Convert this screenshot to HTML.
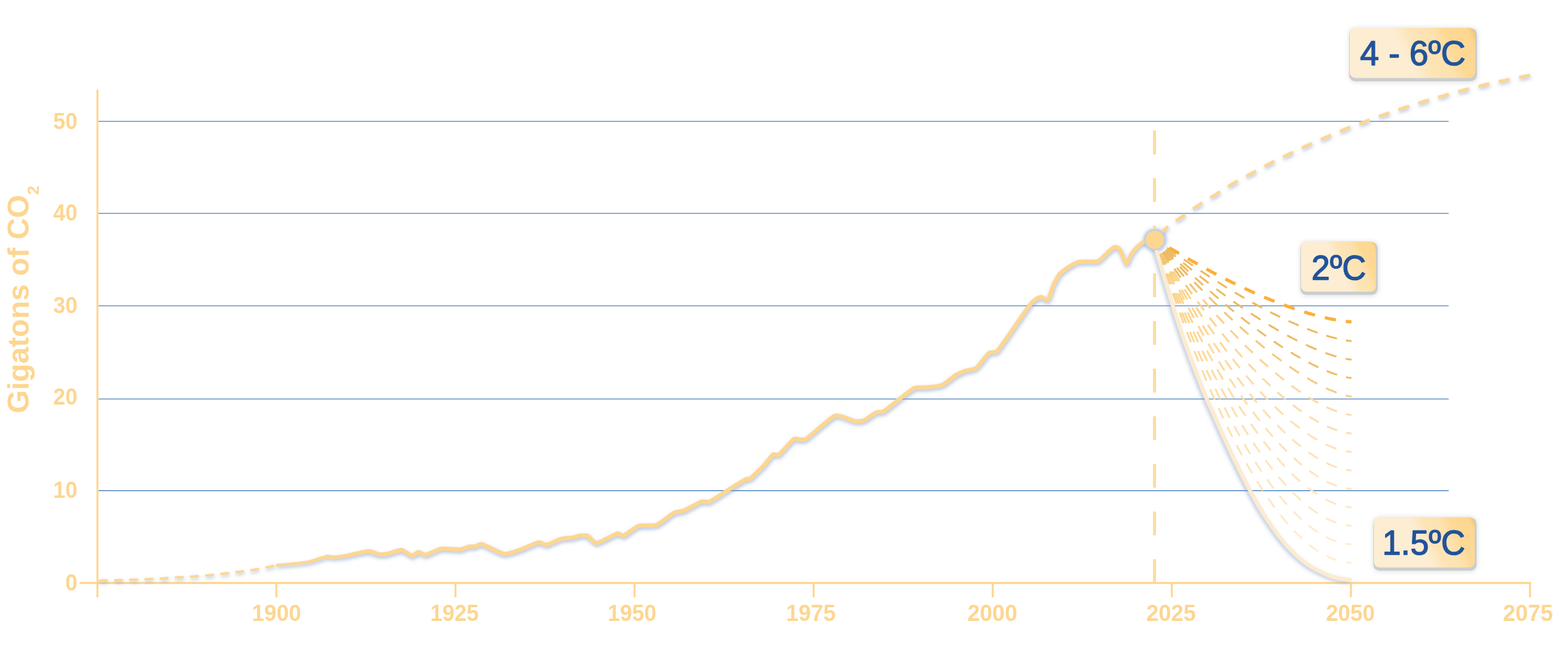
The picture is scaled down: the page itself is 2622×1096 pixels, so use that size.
<!DOCTYPE html>
<html lang="en"><head><meta charset="utf-8"><title>Gigatons of CO2 – emission pathways</title>
<style>html,body{margin:0;padding:0;background:#fff}body{width:2622px;height:1096px;overflow:hidden}svg{display:block}text{font-family:"Liberation Sans",Arial,Helvetica,sans-serif}</style>
</head><body>
<svg width="2622" height="1096" viewBox="0 0 2622 1096">
<defs>
<filter id="sh" x="0" y="0" width="2622" height="1096" filterUnits="userSpaceOnUse"><feGaussianBlur in="SourceAlpha" stdDeviation="3.2" result="b"/><feOffset in="b" dx="0.8" dy="2.6" result="o"/><feFlood flood-color="#7F98BE" flood-opacity="0.62"/><feComposite in2="o" operator="in" result="s"/><feMerge><feMergeNode in="s"/><feMergeNode in="SourceGraphic"/></feMerge></filter>
<filter id="sh2" x="0" y="0" width="2622" height="1096" filterUnits="userSpaceOnUse"><feGaussianBlur in="SourceAlpha" stdDeviation="3.1" result="b"/><feOffset in="b" dx="-3.2" dy="2.0" result="o"/><feFlood flood-color="#7F98BE" flood-opacity="0.55"/><feComposite in2="o" operator="in" result="s"/><feMerge><feMergeNode in="s"/><feMergeNode in="SourceGraphic"/></feMerge></filter>
<filter id="glow" x="-60%" y="-60%" width="220%" height="220%"><feGaussianBlur stdDeviation="3.2"/></filter>
<filter id="soft" x="-20%" y="-30%" width="140%" height="160%"><feGaussianBlur stdDeviation="3"/></filter>
</defs>
<rect width="2622" height="1096" fill="#FFFFFF"/>
<g stroke="#739ECC" stroke-width="1.8" fill="none">
<line x1="164.5" y1="203.2" x2="2422.5" y2="203.2"/>
<line x1="164.5" y1="357.2" x2="2422.5" y2="357.2"/>
<line x1="164.5" y1="511.6" x2="2422.5" y2="511.6"/>
<line x1="164.5" y1="667.6" x2="2422.5" y2="667.6"/>
<line x1="164.5" y1="821.0" x2="2422.5" y2="821.0"/>
</g>
<g stroke="#FDD691" stroke-width="3.3" fill="none">
<line x1="163" y1="150" x2="163" y2="999.7"/>
<line x1="133" y1="975.5" x2="2560.1" y2="975.5"/>
<line x1="462.2" y1="975.5" x2="462.2" y2="999.5"/>
<line x1="761.7" y1="975.5" x2="761.7" y2="999.5"/>
<line x1="1061.1" y1="975.5" x2="1061.1" y2="999.5"/>
<line x1="1360.6" y1="975.5" x2="1360.6" y2="999.5"/>
<line x1="1660.1" y1="975.5" x2="1660.1" y2="999.5"/>
<line x1="1959.5" y1="975.5" x2="1959.5" y2="999.5"/>
<line x1="2259.0" y1="975.5" x2="2259.0" y2="999.5"/>
<line x1="2558.5" y1="975.5" x2="2558.5" y2="999.5"/>
</g>
<circle cx="1931.3" cy="401.8" r="19.6" fill="#9FB1CC" opacity="0.75" filter="url(#glow)"/>
<line x1="1930.6" y1="975.5" x2="1930.6" y2="215" stroke="#FBDCA1" stroke-width="5" stroke-dasharray="39.85 39.85" fill="none"/>
<g fill="#FDD691" font-weight="700" font-size="38.7" text-anchor="end">
<text transform="translate(129.5 216.1) scale(0.94 1)">50</text>
<text transform="translate(129.5 368.7) scale(0.94 1)">40</text>
<text transform="translate(129.5 523.5) scale(0.94 1)">30</text>
<text transform="translate(129.5 677.2) scale(0.94 1)">20</text>
<text transform="translate(129.5 832.7) scale(0.94 1)">10</text>
<text transform="translate(129.5 987.8) scale(0.94 1)">0</text>
</g>
<g fill="#FDD691" font-weight="700" font-size="39.2" text-anchor="middle">
<text transform="translate(462.4 1038.9) scale(0.944 1)">1900</text>
<text transform="translate(760.0 1038.9) scale(0.93 1)">1925</text>
<text transform="translate(1056.9 1038.9) scale(0.93 1)">1950</text>
<text transform="translate(1356.0 1038.9) scale(0.951 1)">1975</text>
<text transform="translate(1659.3 1038.9) scale(0.956 1)">2000</text>
<text transform="translate(1958.3 1038.9) scale(0.953 1)">2025</text>
<text transform="translate(2258.0 1038.9) scale(0.937 1)">2050</text>
<text transform="translate(2555.0 1038.9) scale(0.958 1)">2075</text>
</g>
<text transform="translate(48.4 691.5) rotate(-90) scale(0.983 1)" fill="#FDD691" font-weight="700" font-size="50.7">Gigatons of CO<tspan font-size="28" dy="16.4">2</tspan></text>
<linearGradient id="g1" gradientUnits="userSpaceOnUse" x1="0" y1="400" x2="0" y2="1000"><stop offset="0.000" stop-color="#ECBA61"/><stop offset="1.000" stop-color="#ECBA61"/></linearGradient>
<linearGradient id="g2" gradientUnits="userSpaceOnUse" x1="0" y1="400" x2="0" y2="1000"><stop offset="0.000" stop-color="#ECBB63"/><stop offset="1.000" stop-color="#ECBB63"/></linearGradient>
<linearGradient id="g3" gradientUnits="userSpaceOnUse" x1="0" y1="400" x2="0" y2="1000"><stop offset="0.000" stop-color="#EDBD67"/><stop offset="1.000" stop-color="#EDBD67"/></linearGradient>
<linearGradient id="g4" gradientUnits="userSpaceOnUse" x1="0" y1="400" x2="0" y2="1000"><stop offset="0.000" stop-color="#ECBB63"/><stop offset="0.067" stop-color="#ECBB63"/><stop offset="0.088" stop-color="#ECBB63"/><stop offset="0.110" stop-color="#ECBB63"/><stop offset="0.113" stop-color="#ECBB63"/><stop offset="0.130" stop-color="#ECBB63"/><stop offset="0.147" stop-color="#EEBF69"/><stop offset="0.163" stop-color="#F1C270"/><stop offset="0.180" stop-color="#F3C676"/><stop offset="0.200" stop-color="#F3C676"/><stop offset="0.283" stop-color="#F4C97C"/><stop offset="0.367" stop-color="#F4CB82"/><stop offset="0.450" stop-color="#F5CD88"/><stop offset="0.533" stop-color="#F5D08D"/><stop offset="0.617" stop-color="#F6D292"/><stop offset="0.700" stop-color="#F6D497"/><stop offset="0.783" stop-color="#F7D69C"/><stop offset="0.867" stop-color="#F7D8A2"/><stop offset="0.950" stop-color="#F8DAA7"/></linearGradient>
<linearGradient id="g5" gradientUnits="userSpaceOnUse" x1="0" y1="400" x2="0" y2="1000"><stop offset="0.000" stop-color="#ECBB63"/><stop offset="0.067" stop-color="#ECBB63"/><stop offset="0.088" stop-color="#ECBB63"/><stop offset="0.110" stop-color="#ECBB63"/><stop offset="0.113" stop-color="#ECBB63"/><stop offset="0.130" stop-color="#F0C16E"/><stop offset="0.147" stop-color="#F5C879"/><stop offset="0.163" stop-color="#F9CE84"/><stop offset="0.180" stop-color="#F9CE84"/><stop offset="0.200" stop-color="#F9CE84"/><stop offset="0.283" stop-color="#FAD28F"/><stop offset="0.367" stop-color="#FAD699"/><stop offset="0.450" stop-color="#FBDAA3"/><stop offset="0.533" stop-color="#FBDEAC"/><stop offset="0.617" stop-color="#FCE1B5"/><stop offset="0.700" stop-color="#FCE5BE"/><stop offset="0.783" stop-color="#FCE9C7"/><stop offset="0.867" stop-color="#FDECD1"/><stop offset="0.950" stop-color="#FDF0D9"/></linearGradient>
<linearGradient id="g6" gradientUnits="userSpaceOnUse" x1="0" y1="400" x2="0" y2="1000"><stop offset="0.000" stop-color="#ECBB63"/><stop offset="0.067" stop-color="#ECBB63"/><stop offset="0.088" stop-color="#ECBB63"/><stop offset="0.110" stop-color="#ECBB63"/><stop offset="0.113" stop-color="#ECBB63"/><stop offset="0.130" stop-color="#F1C370"/><stop offset="0.147" stop-color="#F6CA7D"/><stop offset="0.163" stop-color="#FBD28A"/><stop offset="0.180" stop-color="#FBD28A"/><stop offset="0.200" stop-color="#FBD28A"/><stop offset="0.283" stop-color="#FBD694"/><stop offset="0.367" stop-color="#FCD99E"/><stop offset="0.450" stop-color="#FCDDA7"/><stop offset="0.533" stop-color="#FCE0B0"/><stop offset="0.617" stop-color="#FDE3B8"/><stop offset="0.700" stop-color="#FDE6C0"/><stop offset="0.783" stop-color="#FDEAC9"/><stop offset="0.867" stop-color="#FDEDD2"/><stop offset="0.950" stop-color="#FEF0DA"/></linearGradient>
<linearGradient id="g7" gradientUnits="userSpaceOnUse" x1="0" y1="400" x2="0" y2="1000"><stop offset="0.000" stop-color="#F3C674"/><stop offset="0.067" stop-color="#F3C674"/><stop offset="0.088" stop-color="#F8CD81"/><stop offset="0.110" stop-color="#FCD48E"/><stop offset="0.113" stop-color="#FCD48E"/><stop offset="0.130" stop-color="#FCD48E"/><stop offset="0.147" stop-color="#FCD48E"/><stop offset="0.163" stop-color="#FCD48E"/><stop offset="0.180" stop-color="#FCD48E"/><stop offset="0.200" stop-color="#FCD48E"/><stop offset="0.283" stop-color="#FCD897"/><stop offset="0.367" stop-color="#FCDBA1"/><stop offset="0.450" stop-color="#FDDEAA"/><stop offset="0.533" stop-color="#FDE1B2"/><stop offset="0.617" stop-color="#FDE4BA"/><stop offset="0.700" stop-color="#FDE7C2"/><stop offset="0.783" stop-color="#FDEACA"/><stop offset="0.867" stop-color="#FEEED3"/><stop offset="0.950" stop-color="#FEF0DB"/></linearGradient>
<linearGradient id="g8" gradientUnits="userSpaceOnUse" x1="0" y1="400" x2="0" y2="1000"><stop offset="0.000" stop-color="#F3C674"/><stop offset="0.067" stop-color="#F3C674"/><stop offset="0.088" stop-color="#F8CD81"/><stop offset="0.110" stop-color="#FCD48E"/><stop offset="0.113" stop-color="#FCD48E"/><stop offset="0.130" stop-color="#FCD48E"/><stop offset="0.147" stop-color="#FCD48E"/><stop offset="0.163" stop-color="#FCD48E"/><stop offset="0.180" stop-color="#FCD48E"/><stop offset="0.200" stop-color="#FCD48E"/><stop offset="0.283" stop-color="#FCD897"/><stop offset="0.367" stop-color="#FCDBA1"/><stop offset="0.450" stop-color="#FDDEAA"/><stop offset="0.533" stop-color="#FDE1B2"/><stop offset="0.617" stop-color="#FDE4BA"/><stop offset="0.700" stop-color="#FDE7C2"/><stop offset="0.783" stop-color="#FDEACA"/><stop offset="0.867" stop-color="#FEEED3"/><stop offset="0.950" stop-color="#FEF0DB"/></linearGradient>
<linearGradient id="g9" gradientUnits="userSpaceOnUse" x1="0" y1="400" x2="0" y2="1000"><stop offset="0.000" stop-color="#F3C674"/><stop offset="0.067" stop-color="#F3C674"/><stop offset="0.088" stop-color="#F8CD81"/><stop offset="0.110" stop-color="#FCD48E"/><stop offset="0.113" stop-color="#FCD48E"/><stop offset="0.130" stop-color="#FCD48E"/><stop offset="0.147" stop-color="#FCD48E"/><stop offset="0.163" stop-color="#FCD48E"/><stop offset="0.180" stop-color="#FCD48E"/><stop offset="0.200" stop-color="#FCD48E"/><stop offset="0.283" stop-color="#FCD897"/><stop offset="0.367" stop-color="#FCDBA1"/><stop offset="0.450" stop-color="#FDDEAA"/><stop offset="0.533" stop-color="#FDE1B2"/><stop offset="0.617" stop-color="#FDE4BA"/><stop offset="0.700" stop-color="#FDE7C2"/><stop offset="0.783" stop-color="#FDEACA"/><stop offset="0.867" stop-color="#FEEED3"/><stop offset="0.950" stop-color="#FEF0DB"/></linearGradient>
<linearGradient id="g10" gradientUnits="userSpaceOnUse" x1="0" y1="400" x2="0" y2="1000"><stop offset="0.000" stop-color="#F3C674"/><stop offset="0.067" stop-color="#F3C674"/><stop offset="0.088" stop-color="#F8CD81"/><stop offset="0.110" stop-color="#FCD48E"/><stop offset="0.113" stop-color="#FCD48E"/><stop offset="0.130" stop-color="#FCD48E"/><stop offset="0.147" stop-color="#FCD48E"/><stop offset="0.163" stop-color="#FCD48E"/><stop offset="0.180" stop-color="#FCD48E"/><stop offset="0.200" stop-color="#FCD48E"/><stop offset="0.283" stop-color="#FCD897"/><stop offset="0.367" stop-color="#FCDBA1"/><stop offset="0.450" stop-color="#FDDEAA"/><stop offset="0.533" stop-color="#FDE1B2"/><stop offset="0.617" stop-color="#FDE4BA"/><stop offset="0.700" stop-color="#FDE7C2"/><stop offset="0.783" stop-color="#FDEACA"/><stop offset="0.867" stop-color="#FEEED3"/><stop offset="0.950" stop-color="#FEF0DB"/></linearGradient>
<linearGradient id="g11" gradientUnits="userSpaceOnUse" x1="0" y1="400" x2="0" y2="1000"><stop offset="0.000" stop-color="#F3C674"/><stop offset="0.067" stop-color="#F3C674"/><stop offset="0.088" stop-color="#F8CD81"/><stop offset="0.110" stop-color="#FCD48E"/><stop offset="0.113" stop-color="#FCD48E"/><stop offset="0.130" stop-color="#FCD48E"/><stop offset="0.147" stop-color="#FCD48E"/><stop offset="0.163" stop-color="#FCD48E"/><stop offset="0.180" stop-color="#FCD48E"/><stop offset="0.200" stop-color="#FCD48E"/><stop offset="0.283" stop-color="#FCD897"/><stop offset="0.367" stop-color="#FCDBA1"/><stop offset="0.450" stop-color="#FDDEAA"/><stop offset="0.533" stop-color="#FDE1B2"/><stop offset="0.617" stop-color="#FDE4BA"/><stop offset="0.700" stop-color="#FDE7C2"/><stop offset="0.783" stop-color="#FDEACA"/><stop offset="0.867" stop-color="#FEEED3"/><stop offset="0.950" stop-color="#FEF0DB"/></linearGradient>
<linearGradient id="g12" gradientUnits="userSpaceOnUse" x1="0" y1="400" x2="0" y2="1000"><stop offset="0.000" stop-color="#F3C674"/><stop offset="0.067" stop-color="#F3C674"/><stop offset="0.088" stop-color="#F8CD81"/><stop offset="0.110" stop-color="#FCD48E"/><stop offset="0.113" stop-color="#FCD48E"/><stop offset="0.130" stop-color="#FCD48E"/><stop offset="0.147" stop-color="#FCD48E"/><stop offset="0.163" stop-color="#FCD48E"/><stop offset="0.180" stop-color="#FCD48E"/><stop offset="0.200" stop-color="#FCD48E"/><stop offset="0.283" stop-color="#FCD897"/><stop offset="0.367" stop-color="#FCDBA1"/><stop offset="0.450" stop-color="#FDDEAA"/><stop offset="0.533" stop-color="#FDE1B2"/><stop offset="0.617" stop-color="#FDE4BA"/><stop offset="0.700" stop-color="#FDE7C2"/><stop offset="0.783" stop-color="#FDEACA"/><stop offset="0.867" stop-color="#FEEED3"/><stop offset="0.950" stop-color="#FEF0DB"/></linearGradient>
<linearGradient id="g13" gradientUnits="userSpaceOnUse" x1="0" y1="400" x2="0" y2="1000"><stop offset="0.000" stop-color="#F3C674"/><stop offset="0.067" stop-color="#F3C674"/><stop offset="0.088" stop-color="#F8CD81"/><stop offset="0.110" stop-color="#FCD48E"/><stop offset="0.113" stop-color="#FCD48E"/><stop offset="0.130" stop-color="#FCD48E"/><stop offset="0.147" stop-color="#FCD48E"/><stop offset="0.163" stop-color="#FCD48E"/><stop offset="0.180" stop-color="#FCD48E"/><stop offset="0.200" stop-color="#FCD48E"/><stop offset="0.283" stop-color="#FCD897"/><stop offset="0.367" stop-color="#FCDBA1"/><stop offset="0.450" stop-color="#FDDEAA"/><stop offset="0.533" stop-color="#FDE1B2"/><stop offset="0.617" stop-color="#FDE4BA"/><stop offset="0.700" stop-color="#FDE7C2"/><stop offset="0.783" stop-color="#FDEACA"/><stop offset="0.867" stop-color="#FEEED3"/><stop offset="0.950" stop-color="#FEF0DB"/></linearGradient>
<g fill="none" stroke-width="3.2">
<path d="M1931.0,401.2 L1934.7,412.4 L1938.3,423.6 L1942.0,434.6 L1945.6,445.5 L1949.3,456.2 L1952.9,466.9 L1956.6,477.5 L1960.2,487.9 L1963.9,498.3 L1967.6,508.5 L1971.2,518.6 L1974.9,528.6 L1978.5,538.5 L1982.2,548.3 L1985.8,558.0 L1989.5,567.5 L1993.1,577.0 L1996.8,586.3 L2000.5,595.5 L2004.1,604.6 L2007.8,613.6 L2011.4,622.5 L2015.1,631.3 L2018.7,639.9 L2022.4,648.5 L2026.0,656.9 L2029.7,665.2 L2033.4,673.4 L2037.0,681.4 L2040.7,689.4 L2044.3,697.2 L2048.0,705.0 L2051.6,712.6 L2055.3,720.1 L2058.9,727.4 L2062.6,734.7 L2066.3,741.8 L2069.9,748.9 L2073.6,755.8 L2077.2,762.6 L2080.9,769.2 L2084.5,775.8 L2088.2,782.2 L2091.8,788.5 L2095.5,794.7 L2099.2,800.8 L2102.8,806.7 L2106.5,812.6 L2110.1,818.3 L2113.8,823.9 L2117.4,829.3 L2121.1,834.7 L2124.7,839.9 L2128.4,845.0 L2132.1,850.0 L2135.7,854.8 L2139.4,859.6 L2143.0,864.2 L2146.7,868.7 L2150.3,873.0 L2154.0,877.2 L2157.6,881.3 L2161.3,885.3 L2165.0,889.2 L2168.6,892.9 L2172.3,896.5 L2175.9,899.9 L2179.6,903.3 L2183.2,906.5 L2186.9,909.5 L2190.5,912.5 L2194.2,915.3 L2197.9,918.0 L2201.5,920.5 L2205.2,922.9 L2208.8,925.2 L2212.5,927.3 L2216.1,929.3 L2219.8,931.1 L2223.4,932.8 L2227.1,934.4 L2230.8,935.8 L2234.4,937.1 L2238.1,938.2 L2241.7,939.1 L2245.4,939.9 L2249.0,940.6 L2252.7,941.1 L2256.3,941.4 L2260.0,941.5" stroke="url(#g13)" stroke-dasharray="18.74 15.79" stroke-dashoffset="9.37"/>
<path d="M1931.0,401.2 L1934.7,411.5 L1938.3,421.7 L1942.0,431.8 L1945.6,441.9 L1949.3,451.8 L1952.9,461.6 L1956.6,471.4 L1960.2,481.0 L1963.9,490.5 L1967.6,500.0 L1971.2,509.3 L1974.9,518.6 L1978.5,527.7 L1982.2,536.8 L1985.8,545.7 L1989.5,554.6 L1993.1,563.3 L1996.8,572.0 L2000.5,580.5 L2004.1,589.0 L2007.8,597.4 L2011.4,605.6 L2015.1,613.8 L2018.7,621.8 L2022.4,629.8 L2026.0,637.6 L2029.7,645.4 L2033.4,653.0 L2037.0,660.6 L2040.7,668.0 L2044.3,675.4 L2048.0,682.6 L2051.6,689.8 L2055.3,696.8 L2058.9,703.7 L2062.6,710.6 L2066.3,717.3 L2069.9,723.9 L2073.6,730.4 L2077.2,736.9 L2080.9,743.2 L2084.5,749.4 L2088.2,755.5 L2091.8,761.4 L2095.5,767.3 L2099.2,773.1 L2102.8,778.8 L2106.5,784.3 L2110.1,789.8 L2113.8,795.1 L2117.4,800.3 L2121.1,805.5 L2124.7,810.5 L2128.4,815.4 L2132.1,820.1 L2135.7,824.8 L2139.4,829.4 L2143.0,833.8 L2146.7,838.2 L2150.3,842.4 L2154.0,846.5 L2157.6,850.5 L2161.3,854.3 L2165.0,858.1 L2168.6,861.7 L2172.3,865.2 L2175.9,868.6 L2179.6,871.9 L2183.2,875.1 L2186.9,878.1 L2190.5,881.0 L2194.2,883.8 L2197.9,886.5 L2201.5,889.0 L2205.2,891.4 L2208.8,893.7 L2212.5,895.8 L2216.1,897.8 L2219.8,899.7 L2223.4,901.5 L2227.1,903.1 L2230.8,904.5 L2234.4,905.8 L2238.1,907.0 L2241.7,908.0 L2245.4,908.9 L2249.0,909.6 L2252.7,910.1 L2256.3,910.5 L2260.0,910.6" stroke="url(#g12)" stroke-dasharray="18.93 15.94" stroke-dashoffset="9.47"/>
<path d="M1931.0,401.2 L1934.7,410.6 L1938.3,420.0 L1942.0,429.2 L1945.6,438.4 L1949.3,447.5 L1952.9,456.5 L1956.6,465.4 L1960.2,474.3 L1963.9,483.0 L1967.6,491.7 L1971.2,500.3 L1974.9,508.8 L1978.5,517.2 L1982.2,525.6 L1985.8,533.8 L1989.5,542.0 L1993.1,550.1 L1996.8,558.1 L2000.5,566.0 L2004.1,573.8 L2007.8,581.5 L2011.4,589.2 L2015.1,596.7 L2018.7,604.2 L2022.4,611.6 L2026.0,618.9 L2029.7,626.1 L2033.4,633.2 L2037.0,640.2 L2040.7,647.2 L2044.3,654.0 L2048.0,660.8 L2051.6,667.5 L2055.3,674.1 L2058.9,680.6 L2062.6,687.0 L2066.3,693.3 L2069.9,699.5 L2073.6,705.6 L2077.2,711.6 L2080.9,717.6 L2084.5,723.4 L2088.2,729.2 L2091.8,734.8 L2095.5,740.4 L2099.2,745.8 L2102.8,751.2 L2106.5,756.5 L2110.1,761.6 L2113.8,766.7 L2117.4,771.7 L2121.1,776.6 L2124.7,781.4 L2128.4,786.0 L2132.1,790.6 L2135.7,795.1 L2139.4,799.5 L2143.0,803.8 L2146.7,807.9 L2150.3,812.0 L2154.0,816.0 L2157.6,819.8 L2161.3,823.6 L2165.0,827.2 L2168.6,830.8 L2172.3,834.2 L2175.9,837.5 L2179.6,840.7 L2183.2,843.8 L2186.9,846.8 L2190.5,849.7 L2194.2,852.4 L2197.9,855.1 L2201.5,857.6 L2205.2,860.0 L2208.8,862.3 L2212.5,864.4 L2216.1,866.4 L2219.8,868.3 L2223.4,870.1 L2227.1,871.8 L2230.8,873.3 L2234.4,874.6 L2238.1,875.8 L2241.7,876.9 L2245.4,877.8 L2249.0,878.6 L2252.7,879.2 L2256.3,879.5 L2260.0,879.7" stroke="url(#g11)" stroke-dasharray="19.16 16.13" stroke-dashoffset="9.58"/>
<path d="M1931.0,401.2 L1934.7,409.7 L1938.3,418.2 L1942.0,426.6 L1945.6,435.0 L1949.3,443.3 L1952.9,451.5 L1956.6,459.7 L1960.2,467.8 L1963.9,475.8 L1967.6,483.7 L1971.2,491.6 L1974.9,499.5 L1978.5,507.2 L1982.2,514.9 L1985.8,522.5 L1989.5,530.0 L1993.1,537.5 L1996.8,544.8 L2000.5,552.1 L2004.1,559.4 L2007.8,566.5 L2011.4,573.6 L2015.1,580.6 L2018.7,587.5 L2022.4,594.4 L2026.0,601.1 L2029.7,607.8 L2033.4,614.4 L2037.0,621.0 L2040.7,627.4 L2044.3,633.8 L2048.0,640.1 L2051.6,646.3 L2055.3,652.4 L2058.9,658.5 L2062.6,664.5 L2066.3,670.4 L2069.9,676.2 L2073.6,681.9 L2077.2,687.6 L2080.9,693.1 L2084.5,698.6 L2088.2,704.0 L2091.8,709.3 L2095.5,714.6 L2099.2,719.7 L2102.8,724.8 L2106.5,729.7 L2110.1,734.6 L2113.8,739.4 L2117.4,744.1 L2121.1,748.7 L2124.7,753.3 L2128.4,757.7 L2132.1,762.1 L2135.7,766.3 L2139.4,770.5 L2143.0,774.6 L2146.7,778.6 L2150.3,782.5 L2154.0,786.3 L2157.6,790.0 L2161.3,793.6 L2165.0,797.1 L2168.6,800.5 L2172.3,803.8 L2175.9,807.0 L2179.6,810.1 L2183.2,813.1 L2186.9,816.0 L2190.5,818.8 L2194.2,821.5 L2197.9,824.1 L2201.5,826.5 L2205.2,828.9 L2208.8,831.2 L2212.5,833.3 L2216.1,835.3 L2219.8,837.2 L2223.4,839.0 L2227.1,840.6 L2230.8,842.1 L2234.4,843.5 L2238.1,844.7 L2241.7,845.8 L2245.4,846.8 L2249.0,847.6 L2252.7,848.2 L2256.3,848.6 L2260.0,848.8" stroke="url(#g10)" stroke-dasharray="19.44 16.37" stroke-dashoffset="9.72"/>
<path d="M1931.0,401.2 L1934.7,408.9 L1938.3,416.6 L1942.0,424.2 L1945.6,431.8 L1949.3,439.4 L1952.9,446.9 L1956.6,454.3 L1960.2,461.8 L1963.9,469.1 L1967.6,476.4 L1971.2,483.7 L1974.9,490.8 L1978.5,498.0 L1982.2,505.0 L1985.8,512.0 L1989.5,518.9 L1993.1,525.8 L1996.8,532.6 L2000.5,539.3 L2004.1,546.0 L2007.8,552.6 L2011.4,559.1 L2015.1,565.6 L2018.7,572.0 L2022.4,578.3 L2026.0,584.6 L2029.7,590.8 L2033.4,596.9 L2037.0,602.9 L2040.7,608.9 L2044.3,614.8 L2048.0,620.7 L2051.6,626.5 L2055.3,632.2 L2058.9,637.8 L2062.6,643.3 L2066.3,648.8 L2069.9,654.2 L2073.6,659.6 L2077.2,664.8 L2080.9,670.0 L2084.5,675.1 L2088.2,680.2 L2091.8,685.1 L2095.5,690.0 L2099.2,694.8 L2102.8,699.6 L2106.5,704.2 L2110.1,708.8 L2113.8,713.3 L2117.4,717.7 L2121.1,722.1 L2124.7,726.4 L2128.4,730.5 L2132.1,734.6 L2135.7,738.7 L2139.4,742.6 L2143.0,746.4 L2146.7,750.2 L2150.3,753.9 L2154.0,757.5 L2157.6,761.0 L2161.3,764.4 L2165.0,767.8 L2168.6,771.0 L2172.3,774.2 L2175.9,777.2 L2179.6,780.2 L2183.2,783.1 L2186.9,785.8 L2190.5,788.5 L2194.2,791.1 L2197.9,793.6 L2201.5,796.0 L2205.2,798.3 L2208.8,800.4 L2212.5,802.5 L2216.1,804.5 L2219.8,806.3 L2223.4,808.1 L2227.1,809.7 L2230.8,811.2 L2234.4,812.5 L2238.1,813.8 L2241.7,814.9 L2245.4,815.8 L2249.0,816.6 L2252.7,817.3 L2256.3,817.7 L2260.0,817.9" stroke="url(#g9)" stroke-dasharray="18.55 15.62" stroke-dashoffset="9.28"/>
<path d="M1931.0,401.2 L1934.7,408.1 L1938.3,415.0 L1942.0,421.9 L1945.6,428.8 L1949.3,435.7 L1952.9,442.5 L1956.6,449.3 L1960.2,456.1 L1963.9,462.8 L1967.6,469.4 L1971.2,476.0 L1974.9,482.6 L1978.5,489.1 L1982.2,495.5 L1985.8,501.9 L1989.5,508.3 L1993.1,514.6 L1996.8,520.8 L2000.5,527.0 L2004.1,533.1 L2007.8,539.1 L2011.4,545.1 L2015.1,551.1 L2018.7,556.9 L2022.4,562.7 L2026.0,568.5 L2029.7,574.2 L2033.4,579.8 L2037.0,585.4 L2040.7,590.9 L2044.3,596.4 L2048.0,601.7 L2051.6,607.1 L2055.3,612.3 L2058.9,617.5 L2062.6,622.7 L2066.3,627.7 L2069.9,632.7 L2073.6,637.7 L2077.2,642.6 L2080.9,647.4 L2084.5,652.1 L2088.2,656.8 L2091.8,661.4 L2095.5,665.9 L2099.2,670.4 L2102.8,674.8 L2106.5,679.2 L2110.1,683.4 L2113.8,687.6 L2117.4,691.8 L2121.1,695.8 L2124.7,699.8 L2128.4,703.7 L2132.1,707.6 L2135.7,711.3 L2139.4,715.0 L2143.0,718.6 L2146.7,722.2 L2150.3,725.6 L2154.0,729.0 L2157.6,732.3 L2161.3,735.6 L2165.0,738.7 L2168.6,741.8 L2172.3,744.8 L2175.9,747.7 L2179.6,750.5 L2183.2,753.2 L2186.9,755.9 L2190.5,758.4 L2194.2,760.9 L2197.9,763.3 L2201.5,765.6 L2205.2,767.8 L2208.8,769.9 L2212.5,771.9 L2216.1,773.8 L2219.8,775.5 L2223.4,777.2 L2227.1,778.8 L2230.8,780.3 L2234.4,781.6 L2238.1,782.8 L2241.7,783.9 L2245.4,784.9 L2249.0,785.7 L2252.7,786.3 L2256.3,786.8 L2260.0,787.0" stroke="url(#g8)" stroke-dasharray="18.86 15.89" stroke-dashoffset="9.43"/>
<path d="M1931.0,401.2 L1934.7,407.4 L1938.3,413.5 L1942.0,419.7 L1945.6,425.9 L1949.3,432.1 L1952.9,438.3 L1956.6,444.4 L1960.2,450.5 L1963.9,456.6 L1967.6,462.6 L1971.2,468.6 L1974.9,474.5 L1978.5,480.4 L1982.2,486.3 L1985.8,492.1 L1989.5,497.9 L1993.1,503.6 L1996.8,509.3 L2000.5,514.9 L2004.1,520.4 L2007.8,526.0 L2011.4,531.4 L2015.1,536.8 L2018.7,542.2 L2022.4,547.5 L2026.0,552.8 L2029.7,558.0 L2033.4,563.1 L2037.0,568.2 L2040.7,573.3 L2044.3,578.2 L2048.0,583.2 L2051.6,588.1 L2055.3,592.9 L2058.9,597.7 L2062.6,602.4 L2066.3,607.0 L2069.9,611.6 L2073.6,616.2 L2077.2,620.7 L2080.9,625.1 L2084.5,629.5 L2088.2,633.8 L2091.8,638.0 L2095.5,642.2 L2099.2,646.3 L2102.8,650.4 L2106.5,654.4 L2110.1,658.4 L2113.8,662.3 L2117.4,666.1 L2121.1,669.9 L2124.7,673.6 L2128.4,677.2 L2132.1,680.8 L2135.7,684.3 L2139.4,687.7 L2143.0,691.1 L2146.7,694.4 L2150.3,697.6 L2154.0,700.8 L2157.6,703.9 L2161.3,706.9 L2165.0,709.9 L2168.6,712.8 L2172.3,715.6 L2175.9,718.3 L2179.6,721.0 L2183.2,723.6 L2186.9,726.1 L2190.5,728.5 L2194.2,730.8 L2197.9,733.1 L2201.5,735.3 L2205.2,737.4 L2208.8,739.4 L2212.5,741.3 L2216.1,743.1 L2219.8,744.8 L2223.4,746.5 L2227.1,748.0 L2230.8,749.4 L2234.4,750.7 L2238.1,751.9 L2241.7,753.0 L2245.4,753.9 L2249.0,754.7 L2252.7,755.4 L2256.3,755.9 L2260.0,756.1" stroke="url(#g7)" stroke-dasharray="19.25 16.21" stroke-dashoffset="9.63"/>
<path d="M1931.0,401.2 L1934.7,406.5 L1938.3,411.9 L1942.0,417.3 L1945.6,422.7 L1949.3,428.1 L1952.9,433.5 L1956.6,439.0 L1960.2,444.4 L1963.9,449.7 L1967.6,455.1 L1971.2,460.4 L1974.9,465.7 L1978.5,471.0 L1982.2,476.2 L1985.8,481.4 L1989.5,486.6 L1993.1,491.7 L1996.8,496.7 L2000.5,501.8 L2004.1,506.8 L2007.8,511.7 L2011.4,516.6 L2015.1,521.5 L2018.7,526.3 L2022.4,531.1 L2026.0,535.9 L2029.7,540.6 L2033.4,545.2 L2037.0,549.8 L2040.7,554.4 L2044.3,558.9 L2048.0,563.4 L2051.6,567.8 L2055.3,572.2 L2058.9,576.5 L2062.6,580.8 L2066.3,585.0 L2069.9,589.2 L2073.6,593.4 L2077.2,597.5 L2080.9,601.5 L2084.5,605.5 L2088.2,609.5 L2091.8,613.4 L2095.5,617.2 L2099.2,621.0 L2102.8,624.8 L2106.5,628.5 L2110.1,632.1 L2113.8,635.7 L2117.4,639.2 L2121.1,642.7 L2124.7,646.2 L2128.4,649.5 L2132.1,652.9 L2135.7,656.1 L2139.4,659.3 L2143.0,662.5 L2146.7,665.6 L2150.3,668.6 L2154.0,671.6 L2157.6,674.5 L2161.3,677.3 L2165.0,680.1 L2168.6,682.9 L2172.3,685.5 L2175.9,688.1 L2179.6,690.7 L2183.2,693.1 L2186.9,695.5 L2190.5,697.8 L2194.2,700.1 L2197.9,702.3 L2201.5,704.4 L2205.2,706.4 L2208.8,708.4 L2212.5,710.2 L2216.1,712.0 L2219.8,713.7 L2223.4,715.3 L2227.1,716.8 L2230.8,718.3 L2234.4,719.6 L2238.1,720.8 L2241.7,721.9 L2245.4,722.9 L2249.0,723.7 L2252.7,724.4 L2256.3,724.9 L2260.0,725.2" stroke="url(#g6)" stroke-dasharray="18.31 15.42" stroke-dashoffset="9.15"/>
<path d="M1931.0,401.2 L1934.7,405.7 L1938.3,410.2 L1942.0,414.8 L1945.6,419.4 L1949.3,424.0 L1952.9,428.7 L1956.6,433.4 L1960.2,438.0 L1963.9,442.7 L1967.6,447.3 L1971.2,451.9 L1974.9,456.6 L1978.5,461.1 L1982.2,465.7 L1985.8,470.2 L1989.5,474.7 L1993.1,479.2 L1996.8,483.6 L2000.5,488.0 L2004.1,492.4 L2007.8,496.8 L2011.4,501.1 L2015.1,505.4 L2018.7,509.6 L2022.4,513.8 L2026.0,518.0 L2029.7,522.2 L2033.4,526.3 L2037.0,530.4 L2040.7,534.4 L2044.3,538.5 L2048.0,542.4 L2051.6,546.4 L2055.3,550.3 L2058.9,554.2 L2062.6,558.0 L2066.3,561.8 L2069.9,565.6 L2073.6,569.3 L2077.2,573.0 L2080.9,576.7 L2084.5,580.3 L2088.2,583.9 L2091.8,587.4 L2095.5,590.9 L2099.2,594.4 L2102.8,597.8 L2106.5,601.2 L2110.1,604.5 L2113.8,607.8 L2117.4,611.0 L2121.1,614.2 L2124.7,617.4 L2128.4,620.5 L2132.1,623.6 L2135.7,626.6 L2139.4,629.6 L2143.0,632.6 L2146.7,635.5 L2150.3,638.3 L2154.0,641.1 L2157.6,643.9 L2161.3,646.6 L2165.0,649.2 L2168.6,651.8 L2172.3,654.4 L2175.9,656.8 L2179.6,659.3 L2183.2,661.7 L2186.9,664.0 L2190.5,666.2 L2194.2,668.4 L2197.9,670.6 L2201.5,672.6 L2205.2,674.7 L2208.8,676.6 L2212.5,678.5 L2216.1,680.3 L2219.8,682.0 L2223.4,683.6 L2227.1,685.2 L2230.8,686.7 L2234.4,688.1 L2238.1,689.4 L2241.7,690.5 L2245.4,691.6 L2249.0,692.6 L2252.7,693.3 L2256.3,694.0 L2260.0,694.3" stroke="url(#g5)" stroke-dasharray="18.72 15.77" stroke-dashoffset="9.36"/>
<path d="M1931.0,401.2 L1934.7,404.9 L1938.3,408.7 L1942.0,412.6 L1945.6,416.5 L1949.3,420.4 L1952.9,424.4 L1956.6,428.4 L1960.2,432.4 L1963.9,436.4 L1967.6,440.4 L1971.2,444.3 L1974.9,448.3 L1978.5,452.3 L1982.2,456.2 L1985.8,460.1 L1989.5,464.0 L1993.1,467.9 L1996.8,471.7 L2000.5,475.5 L2004.1,479.3 L2007.8,483.1 L2011.4,486.9 L2015.1,490.6 L2018.7,494.3 L2022.4,498.0 L2026.0,501.7 L2029.7,505.3 L2033.4,508.9 L2037.0,512.5 L2040.7,516.1 L2044.3,519.6 L2048.0,523.1 L2051.6,526.6 L2055.3,530.1 L2058.9,533.5 L2062.6,536.9 L2066.3,540.3 L2069.9,543.6 L2073.6,546.9 L2077.2,550.2 L2080.9,553.5 L2084.5,556.7 L2088.2,559.9 L2091.8,563.0 L2095.5,566.2 L2099.2,569.3 L2102.8,572.4 L2106.5,575.4 L2110.1,578.4 L2113.8,581.4 L2117.4,584.3 L2121.1,587.2 L2124.7,590.1 L2128.4,593.0 L2132.1,595.8 L2135.7,598.5 L2139.4,601.3 L2143.0,604.0 L2146.7,606.6 L2150.3,609.3 L2154.0,611.8 L2157.6,614.4 L2161.3,616.9 L2165.0,619.4 L2168.6,621.8 L2172.3,624.2 L2175.9,626.5 L2179.6,628.8 L2183.2,631.0 L2186.9,633.2 L2190.5,635.4 L2194.2,637.5 L2197.9,639.5 L2201.5,641.5 L2205.2,643.5 L2208.8,645.4 L2212.5,647.2 L2216.1,648.9 L2219.8,650.6 L2223.4,652.3 L2227.1,653.8 L2230.8,655.3 L2234.4,656.7 L2238.1,658.1 L2241.7,659.3 L2245.4,660.4 L2249.0,661.4 L2252.7,662.3 L2256.3,663.0 L2260.0,663.4" stroke="url(#g4)" stroke-dasharray="19.28 16.24" stroke-dashoffset="9.64"/>
<path d="M1931.0,401.2 L1934.7,404.4 L1938.3,407.7 L1942.0,411.1 L1945.6,414.5 L1949.3,418.0 L1952.9,421.5 L1956.6,425.0 L1960.2,428.5 L1963.9,432.0 L1967.6,435.5 L1971.2,439.0 L1974.9,442.5 L1978.5,446.0 L1982.2,449.5 L1985.8,452.9 L1989.5,456.4 L1993.1,459.8 L1996.8,463.2 L2000.5,466.6 L2004.1,469.9 L2007.8,473.3 L2011.4,476.6 L2015.1,479.9 L2018.7,483.2 L2022.4,486.4 L2026.0,489.6 L2029.7,492.9 L2033.4,496.0 L2037.0,499.2 L2040.7,502.4 L2044.3,505.5 L2048.0,508.6 L2051.6,511.6 L2055.3,514.7 L2058.9,517.7 L2062.6,520.7 L2066.3,523.7 L2069.9,526.6 L2073.6,529.6 L2077.2,532.5 L2080.9,535.4 L2084.5,538.2 L2088.2,541.0 L2091.8,543.8 L2095.5,546.6 L2099.2,549.3 L2102.8,552.0 L2106.5,554.7 L2110.1,557.4 L2113.8,560.0 L2117.4,562.6 L2121.1,565.2 L2124.7,567.7 L2128.4,570.2 L2132.1,572.7 L2135.7,575.2 L2139.4,577.6 L2143.0,580.0 L2146.7,582.3 L2150.3,584.6 L2154.0,586.9 L2157.6,589.2 L2161.3,591.4 L2165.0,593.6 L2168.6,595.7 L2172.3,597.8 L2175.9,599.9 L2179.6,601.9 L2183.2,603.9 L2186.9,605.8 L2190.5,607.7 L2194.2,609.6 L2197.9,611.4 L2201.5,613.2 L2205.2,614.9 L2208.8,616.5 L2212.5,618.2 L2216.1,619.7 L2219.8,621.2 L2223.4,622.7 L2227.1,624.0 L2230.8,625.4 L2234.4,626.6 L2238.1,627.8 L2241.7,628.9 L2245.4,629.9 L2249.0,630.7 L2252.7,631.5 L2256.3,632.1 L2260.0,632.5" stroke="url(#g3)" stroke-dasharray="18.41 15.50" stroke-dashoffset="9.20"/>
<path d="M1931.0,401.2 L1934.7,403.9 L1938.3,406.7 L1942.0,409.6 L1945.6,412.6 L1949.3,415.5 L1952.9,418.5 L1956.6,421.6 L1960.2,424.6 L1963.9,427.6 L1967.6,430.7 L1971.2,433.7 L1974.9,436.7 L1978.5,439.7 L1982.2,442.7 L1985.8,445.7 L1989.5,448.7 L1993.1,451.7 L1996.8,454.6 L2000.5,457.6 L2004.1,460.5 L2007.8,463.4 L2011.4,466.3 L2015.1,469.1 L2018.7,472.0 L2022.4,474.8 L2026.0,477.6 L2029.7,480.4 L2033.4,483.1 L2037.0,485.9 L2040.7,488.6 L2044.3,491.3 L2048.0,494.0 L2051.6,496.7 L2055.3,499.3 L2058.9,501.9 L2062.6,504.6 L2066.3,507.1 L2069.9,509.7 L2073.6,512.2 L2077.2,514.8 L2080.9,517.2 L2084.5,519.7 L2088.2,522.2 L2091.8,524.6 L2095.5,527.0 L2099.2,529.4 L2102.8,531.7 L2106.5,534.1 L2110.1,536.4 L2113.8,538.7 L2117.4,540.9 L2121.1,543.1 L2124.7,545.3 L2128.4,547.5 L2132.1,549.7 L2135.7,551.8 L2139.4,553.9 L2143.0,556.0 L2146.7,558.0 L2150.3,560.0 L2154.0,562.0 L2157.6,564.0 L2161.3,565.9 L2165.0,567.8 L2168.6,569.6 L2172.3,571.5 L2175.9,573.2 L2179.6,575.0 L2183.2,576.7 L2186.9,578.4 L2190.5,580.1 L2194.2,581.7 L2197.9,583.2 L2201.5,584.8 L2205.2,586.3 L2208.8,587.7 L2212.5,589.1 L2216.1,590.5 L2219.8,591.8 L2223.4,593.0 L2227.1,594.2 L2230.8,595.4 L2234.4,596.5 L2238.1,597.5 L2241.7,598.4 L2245.4,599.3 L2249.0,600.1 L2252.7,600.7 L2256.3,601.3 L2260.0,601.6" stroke="url(#g2)" stroke-dasharray="19.21 16.17" stroke-dashoffset="9.60"/>
<path d="M1931.0,401.2 L1934.7,403.4 L1938.3,405.7 L1942.0,408.1 L1945.6,410.5 L1949.3,413.0 L1952.9,415.5 L1956.6,418.0 L1960.2,420.6 L1963.9,423.1 L1967.6,425.6 L1971.2,428.2 L1974.9,430.7 L1978.5,433.3 L1982.2,435.8 L1985.8,438.3 L1989.5,440.8 L1993.1,443.3 L1996.8,445.8 L2000.5,448.3 L2004.1,450.7 L2007.8,453.2 L2011.4,455.6 L2015.1,458.0 L2018.7,460.4 L2022.4,462.8 L2026.0,465.2 L2029.7,467.5 L2033.4,469.9 L2037.0,472.2 L2040.7,474.5 L2044.3,476.8 L2048.0,479.1 L2051.6,481.3 L2055.3,483.5 L2058.9,485.8 L2062.6,488.0 L2066.3,490.2 L2069.9,492.3 L2073.6,494.5 L2077.2,496.6 L2080.9,498.7 L2084.5,500.8 L2088.2,502.9 L2091.8,504.9 L2095.5,507.0 L2099.2,509.0 L2102.8,511.0 L2106.5,513.0 L2110.1,514.9 L2113.8,516.9 L2117.4,518.8 L2121.1,520.7 L2124.7,522.5 L2128.4,524.4 L2132.1,526.2 L2135.7,528.0 L2139.4,529.8 L2143.0,531.6 L2146.7,533.3 L2150.3,535.0 L2154.0,536.7 L2157.6,538.4 L2161.3,540.0 L2165.0,541.6 L2168.6,543.2 L2172.3,544.8 L2175.9,546.3 L2179.6,547.8 L2183.2,549.3 L2186.9,550.7 L2190.5,552.1 L2194.2,553.5 L2197.9,554.8 L2201.5,556.2 L2205.2,557.4 L2208.8,558.7 L2212.5,559.9 L2216.1,561.1 L2219.8,562.2 L2223.4,563.3 L2227.1,564.3 L2230.8,565.3 L2234.4,566.2 L2238.1,567.1 L2241.7,567.9 L2245.4,568.7 L2249.0,569.4 L2252.7,569.9 L2256.3,570.4 L2260.0,570.7" stroke="url(#g1)" stroke-dasharray="18.41 15.50" stroke-dashoffset="9.21"/>
</g>
<path d="M1931.0,401.2 L1934.7,403.0 L1938.3,405.0 L1942.0,406.9 L1945.6,409.0 L1949.3,411.1 L1952.9,413.2 L1956.6,415.3 L1960.2,417.4 L1963.9,419.6 L1967.6,421.7 L1971.2,423.9 L1974.9,426.0 L1978.5,428.1 L1982.2,430.3 L1985.8,432.4 L1989.5,434.5 L1993.1,436.6 L1996.8,438.7 L2000.5,440.7 L2004.1,442.8 L2007.8,444.8 L2011.4,446.9 L2015.1,448.9 L2018.7,450.9 L2022.4,452.8 L2026.0,454.8 L2029.7,456.8 L2033.4,458.7 L2037.0,460.6 L2040.7,462.5 L2044.3,464.4 L2048.0,466.3 L2051.6,468.2 L2055.3,470.0 L2058.9,471.8 L2062.6,473.6 L2066.3,475.4 L2069.9,477.2 L2073.6,479.0 L2077.2,480.7 L2080.9,482.4 L2084.5,484.1 L2088.2,485.8 L2091.8,487.5 L2095.5,489.1 L2099.2,490.8 L2102.8,492.4 L2106.5,494.0 L2110.1,495.6 L2113.8,497.1 L2117.4,498.7 L2121.1,500.2 L2124.7,501.7 L2128.4,503.2 L2132.1,504.6 L2135.7,506.1 L2139.4,507.5 L2143.0,508.9 L2146.7,510.2 L2150.3,511.6 L2154.0,512.9 L2157.6,514.2 L2161.3,515.5 L2165.0,516.8 L2168.6,518.0 L2172.3,519.2 L2175.9,520.4 L2179.6,521.6 L2183.2,522.7 L2186.9,523.8 L2190.5,524.9 L2194.2,526.0 L2197.9,527.0 L2201.5,528.0 L2205.2,528.9 L2208.8,529.9 L2212.5,530.8 L2216.1,531.6 L2219.8,532.5 L2223.4,533.3 L2227.1,534.0 L2230.8,534.7 L2234.4,535.4 L2238.1,536.0 L2241.7,536.6 L2245.4,537.2 L2249.0,537.6 L2252.7,538.0 L2256.3,538.3 L2260.0,538.5" stroke="#FBB03B" stroke-width="5.4" fill="none" stroke-dasharray="18.78 16.98" stroke-dashoffset="7.89"/>
<path d="M1931.0,401.2 C1931.5,404.5 1932.7,414.3 1934.2,421.0 C1935.8,427.7 1938.0,433.7 1940.3,441.6 C1942.6,449.5 1944.8,456.8 1948.3,468.4 C1951.8,480.0 1956.4,496.2 1961.2,511.5 C1966.0,526.8 1971.1,543.2 1976.9,560.0 C1982.7,576.8 1989.2,594.1 1996.0,612.0 C2002.8,629.9 2012.5,654.3 2018.0,667.6 C2023.5,680.9 2022.6,677.6 2029.1,692.0 C2035.6,706.4 2046.8,732.5 2057.0,754.0 C2067.2,775.5 2080.2,801.9 2090.4,820.9 C2100.6,839.9 2108.0,852.9 2118.2,868.2 C2128.4,883.5 2140.5,900.3 2151.6,912.8 C2162.7,925.3 2173.8,935.3 2185.0,943.4 C2196.2,951.5 2209.3,957.4 2218.5,961.5 C2227.7,965.6 2233.1,966.6 2240.0,968.2 C2246.9,969.8 2256.7,970.5 2260.0,971.0" stroke="#FCEBD0" stroke-width="6.5" fill="none" filter="url(#sh2)"/>
<path d="M165.5,971.6 C166.8,971.5 167.9,971.3 173.3,971.2 C178.7,971.1 189.8,971.0 198.1,970.8 C206.3,970.6 214.3,970.2 222.8,969.9 C231.3,969.6 240.4,969.3 249.0,968.9 C257.6,968.5 265.8,968.2 274.2,967.7 C282.6,967.2 291.1,966.5 299.5,966.0 C307.9,965.5 316.3,965.0 324.7,964.4 C333.1,963.8 341.5,963.3 349.9,962.5 C358.3,961.7 366.8,960.6 375.2,959.6 C383.6,958.6 392.0,957.8 400.4,956.7 C408.8,955.6 417.2,954.6 425.6,953.2 C434.0,951.8 444.9,949.5 450.9,948.3 C456.9,947.1 459.7,946.4 461.5,946.0" stroke="#FDD691" stroke-width="3.9" fill="none" stroke-dasharray="14.6 10.8" stroke-dashoffset="0" filter="url(#sh)"/>
<path d="M1931.0,401.0 C1934.5,397.5 1944.9,386.1 1952.0,380.0 C1959.1,373.9 1965.2,370.6 1973.5,364.7 C1981.8,358.8 1992.2,351.3 2002.0,344.8 C2011.8,338.3 2022.2,332.1 2032.1,325.9 C2042.0,319.7 2051.3,313.5 2061.3,307.6 C2071.3,301.7 2081.8,296.3 2092.0,290.7 C2102.2,285.1 2112.4,279.4 2122.8,274.0 C2133.2,268.6 2143.9,263.5 2154.4,258.4 C2164.9,253.3 2175.3,248.3 2185.8,243.5 C2196.3,238.7 2206.8,234.3 2217.4,229.7 C2228.1,225.1 2238.9,220.1 2249.7,215.8 C2260.5,211.5 2271.2,208.0 2282.0,204.0 C2292.8,200.0 2303.8,195.6 2314.7,191.7 C2325.6,187.8 2336.5,184.2 2347.6,180.5 C2358.7,176.8 2369.9,173.2 2381.1,169.8 C2392.3,166.4 2403.4,163.1 2414.6,159.9 C2425.8,156.7 2436.7,153.8 2448.0,150.8 C2459.3,147.8 2470.9,144.7 2482.2,142.0 C2493.5,139.3 2504.7,136.9 2516.0,134.5 C2527.3,132.1 2542.9,129.0 2550.1,127.5 C2557.3,126.0 2557.5,125.9 2559.0,125.6" stroke="#FDD691" stroke-width="5.2" fill="none" stroke-dasharray="18.5 16.3" stroke-dashoffset="22" filter="url(#sh)"/>
<g filter="url(#sh)" fill="none" stroke-linejoin="round">
<path d="M461.5,945.8 C464.4,945.6 491.7,943.4 496.6,942.9 C501.5,942.4 515.7,940.4 519.9,939.4 C524.1,938.4 543.5,931.8 546.7,931.2 C549.9,930.6 555.7,932.5 558.3,932.4 C560.9,932.3 573.2,931.0 578.1,930.1 C583.0,929.2 611.8,922.4 616.5,922.2 C621.2,922.0 632.5,927.2 634.0,927.7" stroke="#FDD691" stroke-width="4.8" stroke-linecap="butt"/>
<path d="M519.9,939.4 C522.1,938.7 543.5,931.8 546.7,931.2 C549.9,930.6 555.7,932.5 558.3,932.4 C560.9,932.3 573.2,931.0 578.1,930.1 C583.0,929.2 613.3,922.9 616.5,922.2" stroke="#FDD691" stroke-width="5.3" stroke-linecap="round"/>
<path d="M546.7,931.2 C547.7,931.3 555.7,932.5 558.3,932.4 C560.9,932.3 573.2,931.0 578.1,930.1 C583.0,929.2 611.8,922.4 616.5,922.2 C621.2,922.0 632.5,927.2 634.0,927.7" stroke="#FDD691" stroke-width="5.8" stroke-linecap="round"/>
<path d="M578.1,930.1 C581.3,929.4 611.8,922.4 616.5,922.2 C621.2,922.0 631.4,927.3 634.0,927.7 C636.6,928.1 644.9,927.2 648.0,926.6 C651.1,926.0 669.4,920.7 671.3,920.2" stroke="#FDD691" stroke-width="6.3" stroke-linecap="round"/>
<path d="M616.5,922.2 C618.0,922.7 631.4,927.3 634.0,927.7 C636.6,928.1 644.9,927.2 648.0,926.6 C651.1,926.0 667.9,919.9 671.3,920.2 C674.7,920.5 686.4,929.8 688.7,930.1 C691.0,930.4 697.3,923.9 699.2,923.7 C701.1,923.6 708.9,928.8 712.0,928.3 C715.1,927.8 733.3,919.0 736.5,918.2 C739.7,917.4 747.2,918.3 750.0,918.4 C752.8,918.5 767.4,919.7 770.3,919.4 C773.2,919.1 782.3,914.9 784.3,914.5 C786.3,914.1 792.9,914.8 794.7,914.5 C796.5,914.2 801.8,909.5 805.8,910.5 C809.8,911.5 837.0,926.1 842.5,926.8 C848.0,927.5 866.8,920.8 871.6,919.2 C876.4,917.6 896.6,908.1 900.1,907.5 C903.6,906.9 910.9,912.1 914.1,911.6 C917.3,911.1 934.3,902.7 938.0,901.7 C941.7,900.7 956.4,899.8 958.9,899.4 C961.4,899.0 966.3,896.7 968.2,896.5 C970.1,896.3 979.8,895.5 982.2,896.5 C984.6,897.5 993.2,909.0 997.4,908.7 C1001.6,908.4 1028.5,893.6 1032.3,892.6 C1036.1,891.6 1039.8,897.6 1042.7,896.5 C1045.7,895.4 1063.1,881.4 1067.7,879.9 C1072.3,878.4 1093.0,880.2 1098.0,878.4 C1103.0,876.6 1123.3,860.0 1127.1,858.0 C1130.9,856.0 1139.6,856.0 1143.4,854.5 C1147.2,853.0 1169.0,840.7 1172.6,839.4 C1176.2,838.1 1182.7,841.0 1186.5,839.4 C1190.3,837.8 1213.0,822.7 1218.0,819.6 C1223.0,816.5 1244.1,803.3 1247.1,801.8 C1250.1,800.2 1251.7,802.8 1254.1,801.0 C1256.5,799.2 1273.0,783.4 1276.2,780.0 C1279.4,776.6 1290.4,762.1 1292.6,760.5 C1294.8,758.9 1300.2,762.7 1303.1,760.5 C1306.0,758.3 1323.8,736.8 1327.5,734.6 C1331.2,732.4 1341.6,737.9 1347.3,734.6 C1353.0,731.3 1389.5,698.0 1396.3,695.5 C1403.1,693.0 1424.8,703.9 1428.9,704.6 C1433.0,705.3 1442.2,704.6 1445.2,703.4 C1448.2,702.2 1462.3,691.3 1465.0,690.0 C1467.7,688.7 1474.5,690.2 1477.8,688.3 C1481.1,686.4 1500.3,670.6 1504.6,667.3 C1508.9,664.0 1525.1,650.7 1529.0,649.1 C1532.9,647.5 1547.4,648.4 1551.3,648.0 C1555.2,647.6 1572.0,645.7 1575.8,644.1 C1579.6,642.5 1593.8,630.5 1597.0,628.5 C1600.2,626.5 1611.8,621.3 1614.8,620.2 C1617.8,619.1 1629.3,618.2 1632.6,615.7 C1635.8,613.2 1650.9,592.9 1653.8,590.6 C1656.7,588.3 1664.4,590.4 1667.2,587.9 C1670.0,585.4 1683.0,566.4 1687.5,560.0 C1692.0,553.6 1717.6,516.3 1721.3,511.3 C1725.0,506.3 1730.7,501.4 1732.4,500.2 C1734.1,499.0 1739.6,496.9 1741.3,497.0 C1743.0,497.1 1750.7,503.7 1752.5,501.8 C1754.3,499.9 1760.8,478.2 1762.5,474.5 C1764.2,470.8 1771.7,458.9 1772.5,457.5 C1774.7,455.8 1781.0,450.4 1785.8,447.3 C1790.6,444.2 1797.6,440.5 1801.6,438.9 C1805.6,437.3 1804.3,438.1 1809.9,437.8 C1815.5,437.5 1829.6,438.3 1835.0,437.3 C1840.4,436.3 1839.3,434.7 1842.4,432.0 C1845.5,429.3 1850.5,424.2 1853.6,421.3 C1856.7,418.4 1859.0,416.2 1861.0,414.8 C1863.0,413.4 1864.0,413.1 1865.6,413.1 C1867.1,413.1 1868.8,413.3 1870.3,414.8 C1871.8,416.3 1873.4,419.1 1874.9,422.2 C1876.5,425.3 1878.1,430.2 1879.6,433.4 C1881.1,436.6 1882.4,441.4 1883.7,441.5 C1885.0,441.6 1886.0,437.2 1887.5,434.3 C1889.0,431.4 1890.5,427.4 1892.6,424.1 C1894.7,420.9 1897.5,417.4 1900.0,414.8 C1902.5,412.2 1904.9,410.1 1907.4,408.3 C1909.9,406.5 1911.0,405.3 1914.9,404.1 C1918.8,402.9 1928.3,401.7 1931.0,401.2" stroke="#FDD691" stroke-width="6.8" stroke-linecap="round"/>
</g>
<circle cx="1931" cy="401.2" r="17.8" fill="#C6D0DE"/>
<circle cx="1931" cy="401.2" r="15.1" fill="#FDD691"/>
<linearGradient id="bg1" gradientUnits="userSpaceOnUse" x1="2257" y1="46.4" x2="2421.6" y2="-39.6"><stop offset="0" stop-color="#FCEDD3"/><stop offset="0.33" stop-color="#FCEDD3"/><stop offset="0.47" stop-color="#FDE4B6"/><stop offset="0.63" stop-color="#FDE2B0"/><stop offset="0.74" stop-color="#FDD995"/><stop offset="0.925" stop-color="#FDD792"/><stop offset="0.97" stop-color="#F3C97C"/><stop offset="1" stop-color="#E9BD6E"/></linearGradient>
<g>
<rect x="2254" y="44.4" width="218.7" height="95" rx="14" fill="#D5D8DC" opacity="0.5" filter="url(#soft)"/>
<rect x="2256.2" y="51.9" width="213.5" height="84" rx="10" fill="#CBCDCD"/>
<rect x="2256.2" y="47.4" width="213.5" height="84" rx="10" fill="#CBCDCD"/>
<rect x="2257" y="46.4" width="209.7" height="84" rx="9.5" fill="url(#bg1)"/>
<text transform="translate(2274.3 109.1) scale(0.985 1)" font-size="58" fill="#22539A" stroke="#22539A" stroke-width="1.5" stroke-linejoin="round">4 - 6ºC</text>
</g>
<linearGradient id="bg2" gradientUnits="userSpaceOnUse" x1="2175.3" y1="404" x2="2273.7" y2="352.6"><stop offset="0" stop-color="#FCEDD3"/><stop offset="0.33" stop-color="#FCEDD3"/><stop offset="0.47" stop-color="#FDE4B6"/><stop offset="0.63" stop-color="#FDE2B0"/><stop offset="0.74" stop-color="#FDD995"/><stop offset="0.925" stop-color="#FDD792"/><stop offset="0.97" stop-color="#F3C97C"/><stop offset="1" stop-color="#E9BD6E"/></linearGradient>
<g>
<rect x="2172.3" y="402" width="134.4" height="95" rx="14" fill="#D5D8DC" opacity="0.5" filter="url(#soft)"/>
<rect x="2174.5" y="409.5" width="129.20000000000002" height="84" rx="10" fill="#CBCDCD"/>
<rect x="2174.5" y="405" width="129.20000000000002" height="84" rx="10" fill="#CBCDCD"/>
<rect x="2175.3" y="404" width="125.4" height="84" rx="9.5" fill="url(#bg2)"/>
<text transform="translate(2193.0 467.9) scale(0.958 1)" font-size="58" fill="#22539A" stroke="#22539A" stroke-width="1.5" stroke-linejoin="round">2ºC</text>
</g>
<linearGradient id="bg3" gradientUnits="userSpaceOnUse" x1="2297.3" y1="865.2" x2="2429.8" y2="796.0"><stop offset="0" stop-color="#FCEDD3"/><stop offset="0.33" stop-color="#FCEDD3"/><stop offset="0.47" stop-color="#FDE4B6"/><stop offset="0.63" stop-color="#FDE2B0"/><stop offset="0.74" stop-color="#FDD995"/><stop offset="0.925" stop-color="#FDD792"/><stop offset="0.97" stop-color="#F3C97C"/><stop offset="1" stop-color="#E9BD6E"/></linearGradient>
<g>
<rect x="2294.3" y="863.2" width="177.8" height="95.3" rx="14" fill="#D5D8DC" opacity="0.5" filter="url(#soft)"/>
<rect x="2296.5" y="870.7" width="172.60000000000002" height="84.3" rx="10" fill="#CBCDCD"/>
<rect x="2296.5" y="866.2" width="172.60000000000002" height="84.3" rx="10" fill="#CBCDCD"/>
<rect x="2297.3" y="865.2" width="168.8" height="84.3" rx="9.5" fill="url(#bg3)"/>
<text transform="translate(2311.5 928.4) scale(0.965 1)" font-size="58" fill="#22539A" stroke="#22539A" stroke-width="1.5" stroke-linejoin="round">1.5ºC</text>
</g>
</svg>
</body></html>
